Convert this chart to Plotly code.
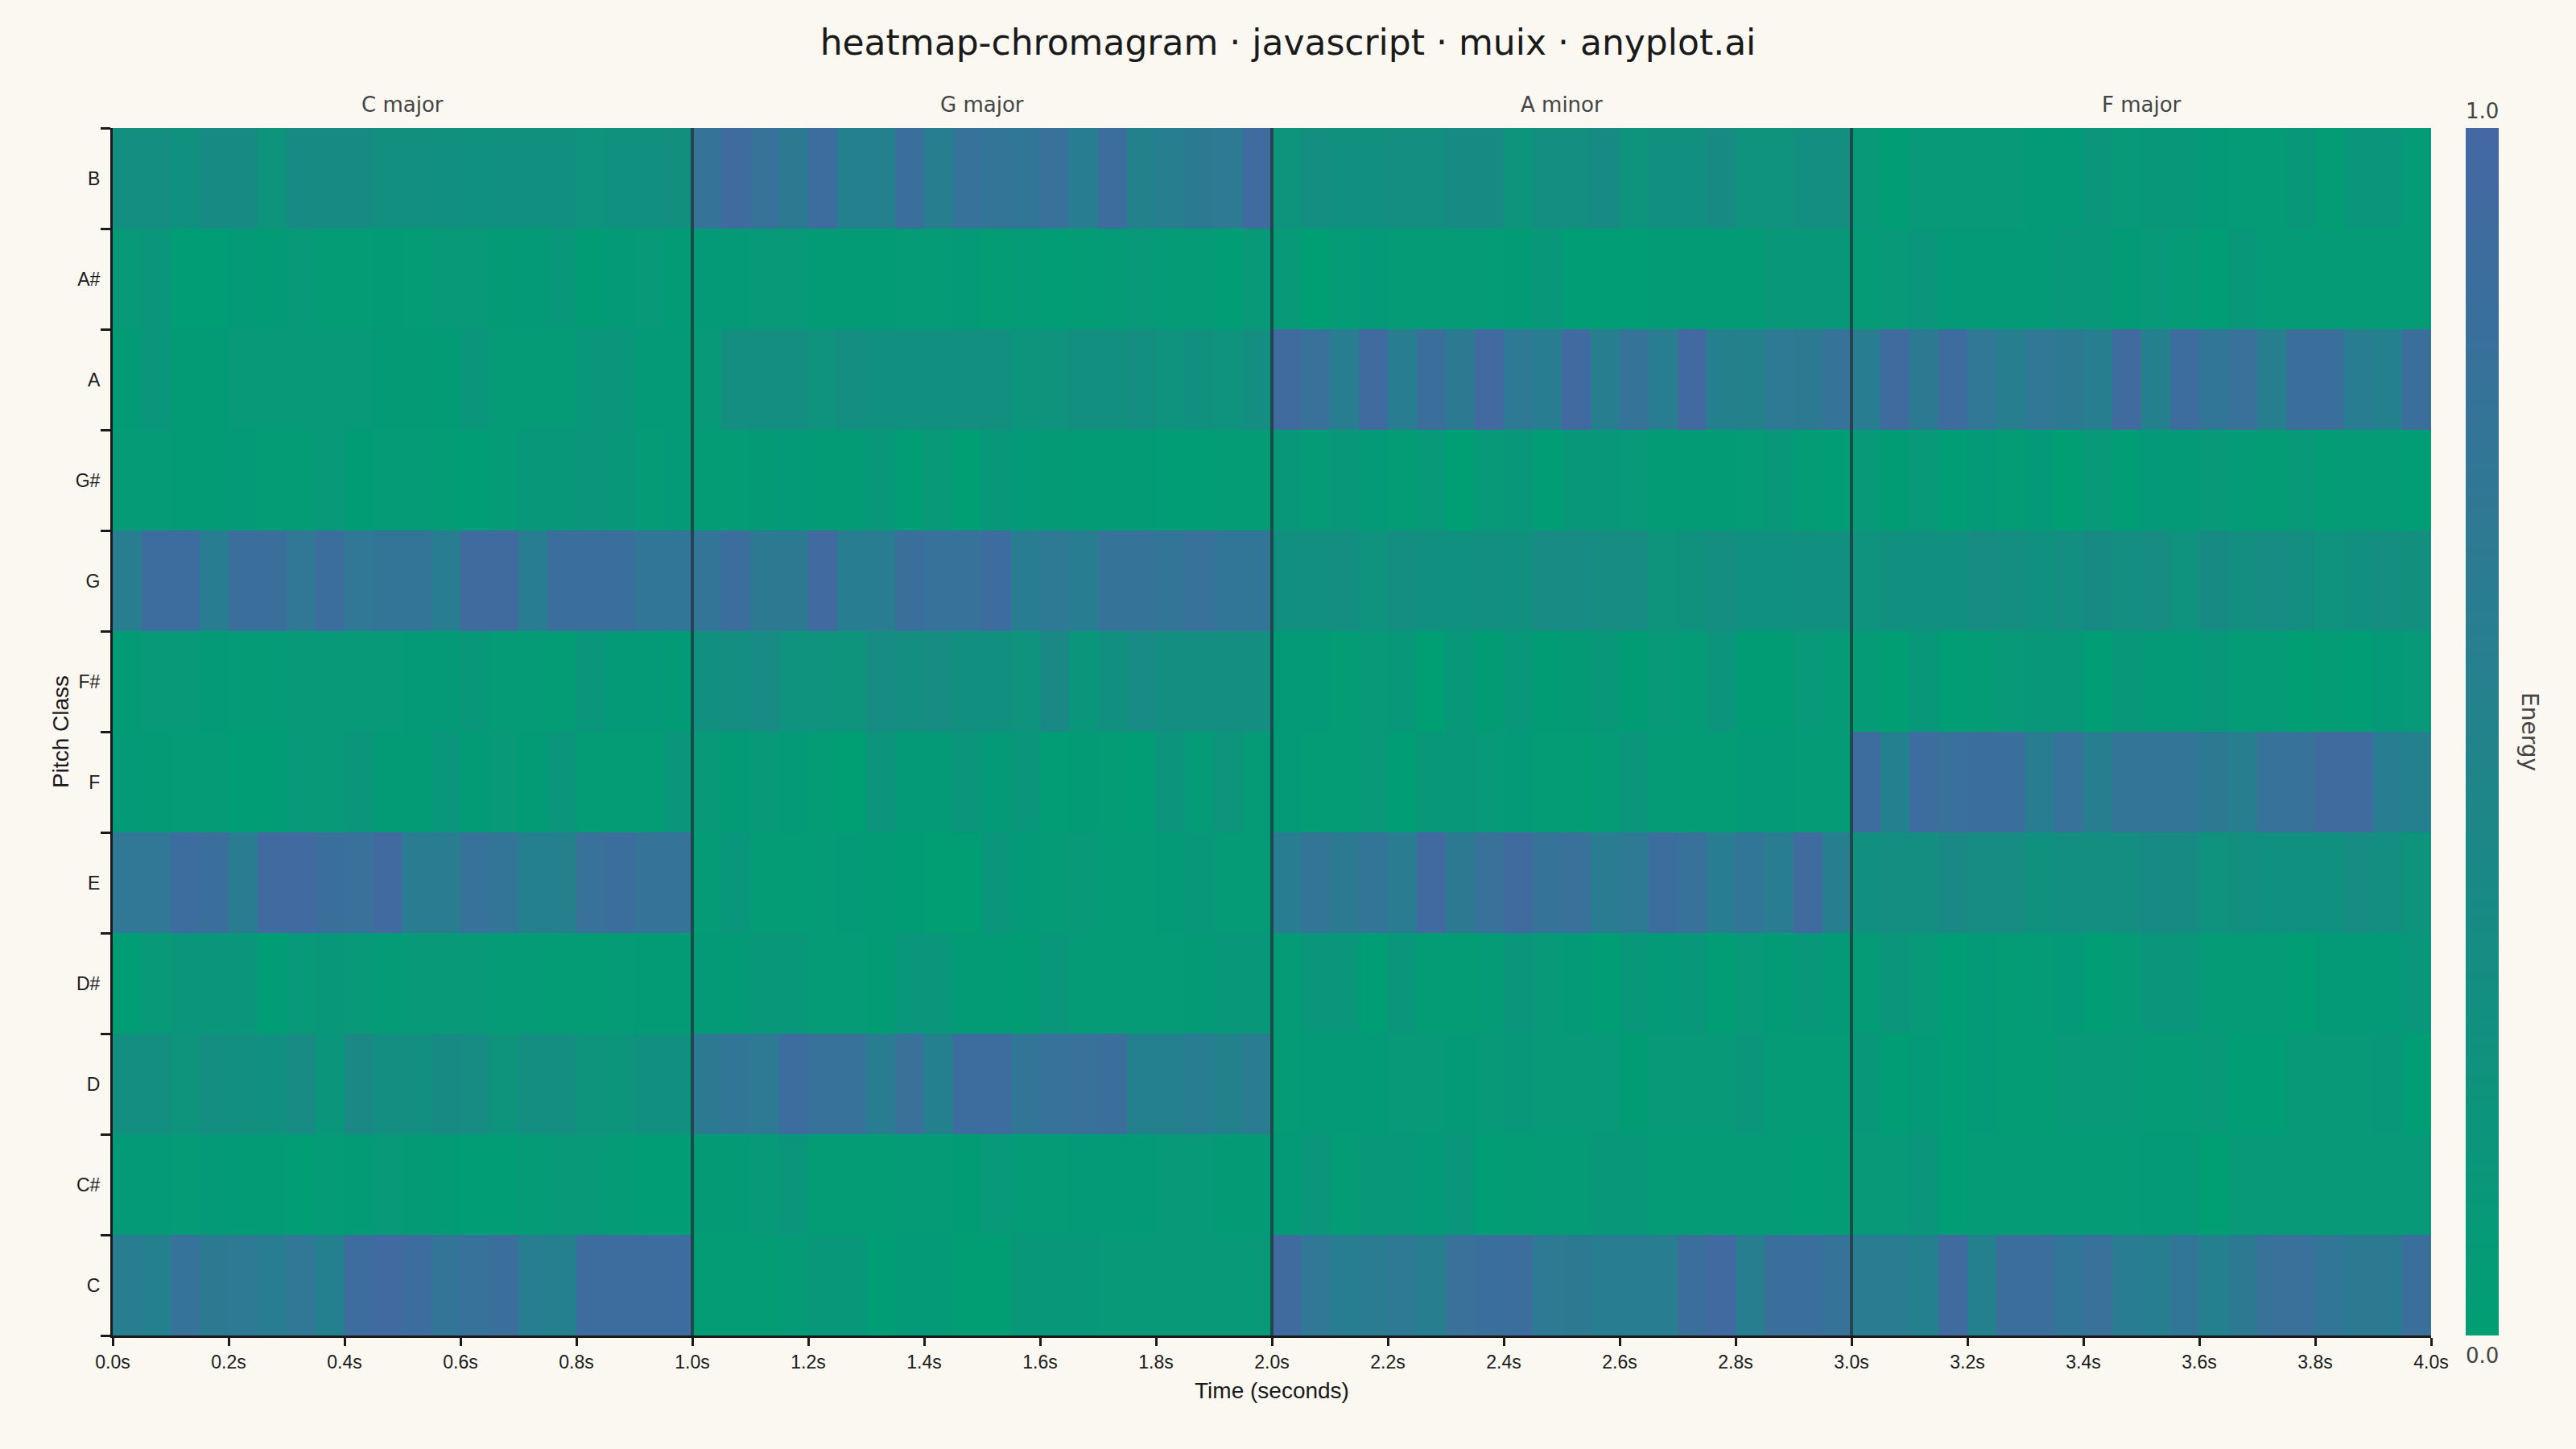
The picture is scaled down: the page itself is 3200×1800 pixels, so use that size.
import plotly.graph_objects as go

# ---------------- data ----------------
pitch_classes = ["C", "C#", "D", "D#", "E", "F", "F#", "G", "G#", "A", "A#", "B"]
segment_names = ["C major", "G major", "A minor", "F major"]
segment_bounds = [0.0, 1.0, 2.0, 3.0, 4.0]
frame_duration = 0.05
tick_values = [0.0, 0.2, 0.4, 0.6, 0.8, 1.0, 1.2, 1.4, 1.6, 1.8, 2.0,
               2.2, 2.4, 2.6, 2.8, 3.0, 3.2, 3.4, 3.6, 3.8, 4.0]

chroma_C = [0.60,0.55,0.80,0.65,0.68,0.60,0.70,0.55,0.90,0.95,0.90,0.75,0.80,0.85,0.58,0.55,0.90,0.90,0.90,0.90,
            0.04,0.04,0.04,0.06,0.12,0.12,0.02,0.08,0.08,0.01,0.01,0.12,0.12,0.12,0.10,0.10,0.10,0.10,0.10,0.10,
            0.92,0.70,0.60,0.62,0.68,0.58,0.82,0.85,0.88,0.68,0.65,0.60,0.60,0.60,0.85,0.95,0.58,0.85,0.85,0.78,
            0.62,0.62,0.55,0.92,0.55,0.88,0.88,0.72,0.82,0.62,0.58,0.72,0.55,0.65,0.82,0.82,0.72,0.65,0.65,0.85]
chroma_Cs = [0.08,0.08,0.06,0.08,0.05,0.05,0.02,0.06,0.05,0.10,0.07,0.05,0.02,0.02,0.06,0.10,0.10,0.06,0.02,0.02,
             0.07,0.07,0.10,0.15,0.04,0.04,0.04,0.06,0.06,0.03,0.10,0.06,0.06,0.08,0.08,0.08,0.10,0.10,0.07,0.07,
             0.08,0.15,0.04,0.12,0.12,0.08,0.14,0.02,0.04,0.06,0.06,0.12,0.12,0.06,0.06,0.06,0.06,0.06,0.02,0.04,
             0.10,0.10,0.14,0.02,0.06,0.06,0.06,0.06,0.06,0.06,0.08,0.08,0.00,0.10,0.10,0.10,0.10,0.10,0.10,0.10]
chroma_D = [0.30,0.30,0.20,0.30,0.28,0.25,0.35,0.15,0.40,0.30,0.30,0.34,0.32,0.20,0.30,0.30,0.20,0.17,0.25,0.25,
            0.65,0.72,0.68,0.90,0.80,0.80,0.60,0.82,0.55,0.90,0.90,0.72,0.80,0.82,0.85,0.55,0.55,0.60,0.52,0.62,
            0.06,0.08,0.08,0.08,0.10,0.10,0.08,0.10,0.12,0.10,0.10,0.10,0.03,0.10,0.10,0.10,0.14,0.06,0.06,0.06,
            0.12,0.02,0.08,0.02,0.08,0.04,0.04,0.10,0.10,0.10,0.06,0.06,0.10,0.02,0.02,0.10,0.10,0.10,0.12,0.02]
chroma_Ds = [0.02,0.10,0.14,0.14,0.14,0.02,0.10,0.12,0.10,0.06,0.10,0.10,0.10,0.06,0.06,0.04,0.04,0.06,0.05,0.05,
             0.08,0.05,0.12,0.12,0.06,0.06,0.03,0.15,0.15,0.05,0.05,0.03,0.15,0.06,0.06,0.06,0.06,0.07,0.12,0.12,
             0.06,0.14,0.14,0.02,0.14,0.04,0.04,0.06,0.14,0.10,0.08,0.02,0.12,0.08,0.12,0.02,0.10,0.05,0.12,0.08,
             0.06,0.16,0.10,0.02,0.08,0.04,0.06,0.08,0.02,0.06,0.14,0.14,0.06,0.06,0.06,0.02,0.08,0.08,0.08,0.14]
chroma_E = [0.70,0.70,0.90,0.85,0.62,0.95,0.95,0.85,0.82,0.95,0.62,0.62,0.80,0.75,0.55,0.55,0.82,0.88,0.78,0.78,
            0.06,0.14,0.04,0.04,0.06,0.08,0.05,0.03,0.01,0.01,0.14,0.08,0.06,0.10,0.06,0.06,0.08,0.12,0.06,0.06,
            0.60,0.75,0.65,0.75,0.62,0.95,0.65,0.82,0.92,0.78,0.82,0.62,0.68,0.88,0.82,0.60,0.72,0.62,0.92,0.58,
            0.26,0.30,0.30,0.38,0.32,0.32,0.24,0.28,0.30,0.30,0.34,0.34,0.22,0.28,0.24,0.24,0.24,0.32,0.30,0.20]
chroma_F = [0.08,0.07,0.06,0.06,0.02,0.02,0.10,0.10,0.14,0.05,0.05,0.14,0.05,0.10,0.05,0.14,0.04,0.04,0.04,0.15,
            0.10,0.05,0.10,0.08,0.04,0.00,0.18,0.08,0.08,0.16,0.08,0.15,0.02,0.05,0.04,0.02,0.18,0.06,0.18,0.06,
            0.08,0.04,0.04,0.10,0.02,0.12,0.12,0.10,0.08,0.04,0.04,0.06,0.15,0.06,0.04,0.04,0.08,0.08,0.06,0.06,
            0.90,0.55,0.90,0.82,0.85,0.85,0.60,0.80,0.58,0.75,0.75,0.75,0.65,0.58,0.80,0.80,0.92,0.92,0.60,0.55]
chroma_Fs = [0.05,0.10,0.10,0.08,0.06,0.06,0.10,0.10,0.10,0.10,0.08,0.08,0.12,0.06,0.06,0.04,0.15,0.08,0.08,0.05,
             0.25,0.30,0.35,0.22,0.22,0.20,0.32,0.30,0.32,0.25,0.25,0.22,0.38,0.15,0.25,0.35,0.30,0.30,0.30,0.30,
             0.08,0.08,0.04,0.10,0.12,0.00,0.12,0.03,0.12,0.03,0.07,0.13,0.03,0.10,0.06,0.18,0.03,0.03,0.10,0.06,
             0.06,0.01,0.12,0.02,0.04,0.10,0.12,0.12,0.02,0.12,0.08,0.08,0.12,0.06,0.06,0.01,0.04,0.02,0.08,0.10]
chroma_G = [0.60,0.90,0.90,0.60,0.85,0.85,0.70,0.88,0.70,0.75,0.75,0.60,0.92,0.92,0.60,0.85,0.85,0.85,0.72,0.72,
            0.75,0.88,0.65,0.65,0.95,0.60,0.60,0.85,0.80,0.80,0.90,0.60,0.68,0.60,0.78,0.78,0.75,0.82,0.72,0.72,
            0.25,0.28,0.30,0.22,0.30,0.25,0.24,0.28,0.26,0.35,0.35,0.32,0.32,0.20,0.24,0.30,0.24,0.24,0.25,0.25,
            0.22,0.26,0.26,0.26,0.32,0.30,0.24,0.30,0.34,0.30,0.32,0.22,0.34,0.30,0.32,0.30,0.22,0.26,0.30,0.28]
chroma_Gs = [0.06,0.06,0.05,0.05,0.08,0.04,0.04,0.10,0.03,0.06,0.06,0.04,0.02,0.06,0.12,0.12,0.15,0.12,0.06,0.08,
             0.04,0.04,0.07,0.08,0.05,0.05,0.12,0.02,0.10,0.00,0.12,0.08,0.07,0.05,0.05,0.05,0.02,0.02,0.04,0.04,
             0.12,0.06,0.12,0.08,0.04,0.10,0.00,0.10,0.12,0.02,0.12,0.12,0.10,0.05,0.05,0.05,0.06,0.12,0.04,0.02,
             0.10,0.03,0.10,0.02,0.08,0.04,0.08,0.01,0.10,0.02,0.08,0.08,0.10,0.06,0.04,0.10,0.04,0.06,0.06,0.02]
chroma_A = [0.05,0.15,0.05,0.05,0.10,0.10,0.10,0.10,0.10,0.07,0.07,0.05,0.15,0.06,0.06,0.06,0.15,0.15,0.08,0.08,
            0.10,0.30,0.30,0.30,0.22,0.30,0.25,0.25,0.25,0.28,0.28,0.18,0.22,0.28,0.28,0.30,0.22,0.25,0.22,0.30,
            0.92,0.82,0.60,0.92,0.60,0.85,0.65,0.95,0.68,0.60,0.95,0.58,0.78,0.60,0.95,0.55,0.52,0.68,0.65,0.78,
            0.60,0.92,0.65,0.90,0.70,0.58,0.70,0.65,0.58,0.92,0.55,0.90,0.72,0.82,0.58,0.85,0.85,0.60,0.55,0.85]
chroma_As = [0.10,0.15,0.02,0.02,0.08,0.05,0.10,0.04,0.04,0.05,0.04,0.10,0.10,0.07,0.08,0.12,0.03,0.08,0.10,0.05,
             0.08,0.08,0.10,0.10,0.05,0.05,0.05,0.06,0.06,0.08,0.04,0.06,0.02,0.04,0.06,0.10,0.06,0.06,0.02,0.10,
             0.10,0.00,0.06,0.08,0.06,0.06,0.06,0.06,0.05,0.12,0.02,0.02,0.02,0.05,0.05,0.05,0.05,0.12,0.12,0.12,
             0.06,0.10,0.14,0.08,0.08,0.08,0.08,0.12,0.12,0.05,0.10,0.06,0.02,0.12,0.06,0.06,0.06,0.06,0.06,0.06]
chroma_B = [0.30,0.30,0.24,0.34,0.34,0.20,0.36,0.36,0.36,0.28,0.28,0.26,0.24,0.26,0.26,0.26,0.22,0.24,0.26,0.28,
            0.78,0.92,0.80,0.65,0.90,0.55,0.55,0.85,0.58,0.80,0.75,0.72,0.82,0.60,0.88,0.52,0.58,0.65,0.68,0.92,
            0.20,0.30,0.26,0.26,0.30,0.30,0.34,0.34,0.18,0.30,0.30,0.36,0.20,0.25,0.25,0.36,0.22,0.22,0.30,0.30,
            0.10,0.02,0.10,0.10,0.10,0.10,0.08,0.08,0.16,0.10,0.12,0.12,0.08,0.06,0.06,0.12,0.04,0.15,0.15,0.06]

z = [chroma_C, chroma_Cs, chroma_D, chroma_Ds, chroma_E, chroma_F,
     chroma_Fs, chroma_G, chroma_Gs, chroma_A, chroma_As, chroma_B]
n_frames = len(chroma_C)
times = [round(frame_duration * (i + 0.5), 4) for i in range(n_frames)]

# ---------------- style ----------------
BG = "#FAF8F1"
INK = "#1A1A1A"
MUTED = "#444444"
colorscale = [[0.0, "#009E73"], [1.0, "#4467A3"]]

fig = go.Figure()
fig.add_trace(go.Heatmap(
    x=times, y=pitch_classes, z=z,
    zmin=0, zmax=1, zsmooth=False,
    colorscale=colorscale,
    hovertemplate="%{y} @ %{x:.2f}s<br>Energy %{z:.2f}<extra></extra>",
    colorbar=dict(
        thickness=41, len=1, lenmode="fraction", y=0.5, yanchor="middle",
        x=1.015, xanchor="left", xpad=0, ypad=0, outlinewidth=0,
        showticklabels=False, ticks="",
    ),
))

# segment boundary lines
for b in segment_bounds[1:-1]:
    fig.add_shape(type="line", xref="x", yref="paper", x0=b, x1=b, y0=0, y1=1,
                  line=dict(color="rgba(30,40,45,0.65)", width=4), layer="above")

# segment labels
for name, a, b in zip(segment_names, segment_bounds[:-1], segment_bounds[1:]):
    fig.add_annotation(x=(a + b) / 2, y=1, xref="x", yref="paper", text=name,
                       showarrow=False, xanchor="center", yanchor="bottom", yshift=12,
                       font=dict(family="DejaVu Sans", size=26, color=MUTED))

# colorbar end labels and title
fig.add_annotation(x=1.0219, y=1, xref="paper", yref="paper", text="1.0", showarrow=False,
                   xanchor="center", yanchor="bottom", yshift=4,
                   font=dict(family="DejaVu Sans", size=26, color=MUTED))
fig.add_annotation(x=1.0219, y=0, xref="paper", yref="paper", text="0.0", showarrow=False,
                   xanchor="center", yanchor="top", yshift=-8,
                   font=dict(family="DejaVu Sans", size=26, color=MUTED))
fig.add_annotation(x=1.0427, y=0.5, xref="paper", yref="paper", text="Energy", showarrow=False,
                   textangle=90, xanchor="center", yanchor="middle",
                   font=dict(family="DejaVu Sans", size=28, color=MUTED))

fig.update_layout(
    width=3200, height=1800,
    paper_bgcolor=BG, plot_bgcolor=BG,
    margin=dict(l=140, r=180, t=159, b=141),
    title=dict(text="heatmap-chromagram · javascript · muix · anyplot.ai",
               x=0.5, xref="container", y=1 - 53 / 1800, yref="container",
               xanchor="center", yanchor="middle",
               font=dict(family="DejaVu Sans", size=44, color=INK)),
    xaxis=dict(
        range=[segment_bounds[0], segment_bounds[-1]],
        tickvals=tick_values, ticktext=[f"{v:.1f}s" for v in tick_values],
        ticks="outside", ticklen=10, tickwidth=3, tickcolor=INK,
        showline=True, linecolor=INK, linewidth=3, showgrid=False, zeroline=False,
        tickfont=dict(family="Liberation Sans", size=23, color=INK),
        title=dict(text="Time (seconds)", standoff=14,
                   font=dict(family="Liberation Sans", size=28, color=INK)),
    ),
    yaxis=dict(
        type="category", tickson="boundaries",
        ticks="outside", ticklen=12, tickwidth=3, tickcolor=INK,
        ticklabelstandoff=8,
        showline=True, linecolor=INK, linewidth=3, showgrid=False, zeroline=False,
        tickfont=dict(family="Liberation Sans", size=23, color=INK),
        title=dict(text="Pitch Class", standoff=0,
                   font=dict(family="Liberation Sans", size=28, color=INK)),
    ),
)

fig.write_html(
    "out.html",
    config={"displayModeBar": False},
    post_script="document.body.style.margin='0';document.body.style.background='#FAF8F1';",
)
